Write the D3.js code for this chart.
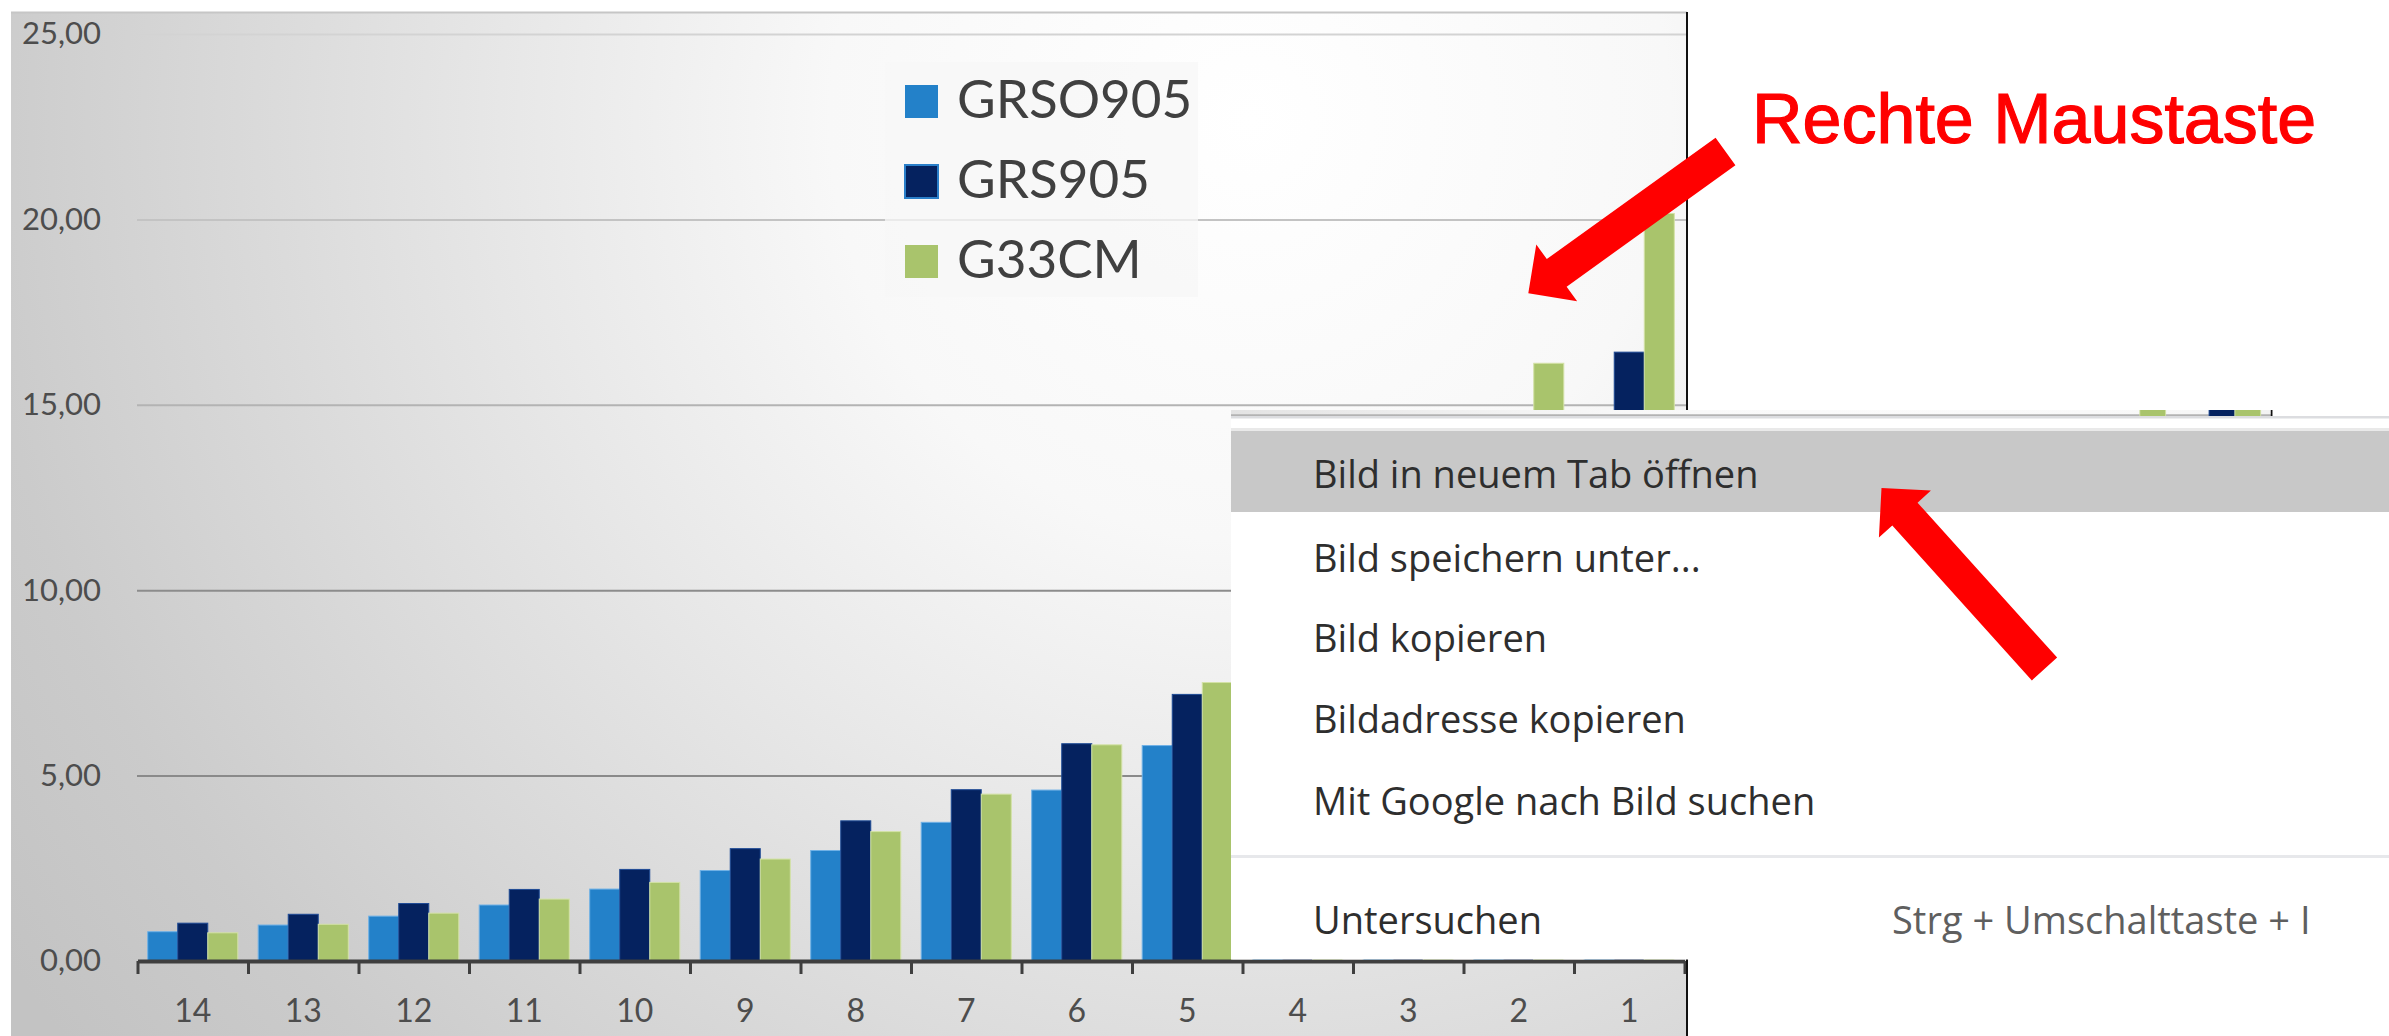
<!DOCTYPE html>
<html>
<head>
<meta charset="utf-8">
<script src="https://cdn.jsdelivr.net/npm/d3@7"></script>
<style>
  html, body { margin: 0; padding: 0; background: #ffffff; overflow: hidden; }
  svg { display: block; }
</style>
</head>
<body>
<svg id="c" width="2389" height="1036"></svg>
<script>
// ---- data ----
const categories = ["14", "13", "12", "11", "10", "9", "8", "7", "6", "5", "4", "3", "2", "1"];
const seriesNames = ["GRSO905", "GRS905", "G33CM"];
const grso905 = [0.79, 0.97, 1.21, 1.51, 1.94, 2.44, 2.98, 3.74, 4.61, 5.81, 7.10, 8.70, 10.70, 13.20];
const grs905  = [1.02, 1.26, 1.55, 1.93, 2.47, 3.03, 3.78, 4.62, 5.86, 7.19, 8.85, 10.90, 13.35, 16.42];
const g33cm   = [0.76, 0.99, 1.29, 1.67, 2.12, 2.75, 3.49, 4.50, 5.83, 7.51, 9.80, 12.60, 16.12, 20.16];
const yTicks = [0, 5, 10, 15, 20, 25];
const menuItems = ["Bild in neuem Tab öffnen", "Bild speichern unter...", "Bild kopieren", "Bildadresse kopieren", "Mit Google nach Bild suchen"];
const menuFooter = "Untersuchen";
const menuShortcut = "Strg + Umschalttaste + I";
const calloutText = "Rechte Maustaste";

const values = { GRSO905: grso905, GRS905: grs905, G33CM: g33cm };

// ---- scales ----
const x = d3.scaleBand().domain(categories).range([137.5, 1684.5]);
const xs = d3.scaleBand().domain(seriesNames).range([0, x.bandwidth()]).paddingOuter(0.34);
const y = d3.scaleLinear().domain([0, 25]).range([961, 34]);
const xEdges = d3.scaleLinear().domain([0, categories.length]).range(x.range());
const fill = d3.scaleOrdinal().domain(seriesNames).range(["#2381c9", "#05225f", "#a9c46c"]);
const rim = d3.scaleOrdinal().domain(seriesNames).range(["#6fb1e6", "#1f4b96", "#d3e2a6"]);
const gridShade = d3.scaleThreshold().domain([7.5, 12.5, 17.5, 22.5])
  .range(["#8a8a8a", "#8c8c8c", "#b3b3b3", "#c3c3c3", "#d3d3d3"]);
const fmt = d3.formatLocale({ decimal: ",", thousands: ".", grouping: [3], currency: ["", " €"] }).format(".2f");

const svg = d3.select("#c");
const defs = svg.append("defs");

const bg = defs.append("radialGradient").attr("id", "panelBg")
  .attr("gradientUnits", "userSpaceOnUse").attr("cx", 1250).attr("cy", 120).attr("r", 1500);
[[0, "#ffffff"], [0.28, "#f8f8f8"], [0.5, "#e7e7e7"], [0.7, "#d7d7d7"], [0.85, "#cbcbcb"], [1, "#c3c3c3"]]
  .forEach(([o, c]) => bg.append("stop").attr("offset", o).attr("stop-color", c));

defs.append("clipPath").attr("id", "stripClip")
  .append("rect").attr("x", 1231).attr("y", 410).attr("width", 1158).attr("height", 8);

const chartFont = "Lato, 'Open Sans', sans-serif";

// draws the column chart into g (panel, grid, bars, axes); labels only when asked
function drawChart(g, withText) {
  g.append("rect").attr("x", 11).attr("y", 12).attr("width", 1676).attr("height", 1030)
    .attr("fill", "url(#panelBg)");
  g.append("line").attr("x1", 11).attr("x2", 1687).attr("y1", 12.5).attr("y2", 12.5)
    .attr("stroke", "#c6c6c6").attr("stroke-width", 2);

  // gridlines
  const grid = g.append("g").attr("transform", "translate(137,0)")
    .call(d3.axisLeft(y).tickValues(yTicks.filter(v => v > 0)).tickSize(-(1687 - 137)).tickFormat(""));
  grid.select(".domain").remove();
  grid.selectAll(".tick line").attr("stroke", d => gridShade(d)).attr("stroke-width", 2);

  // bars
  const groups = g.append("g").selectAll("g").data(categories).join("g")
    .attr("transform", d => `translate(${x(d)},0)`);
  groups.selectAll("rect")
    .data((c, i) => seriesNames.map(s => ({ s, v: values[s][i] })))
    .join("rect")
    .attr("x", d => xs(d.s))
    .attr("width", xs.bandwidth())
    .attr("y", d => y(d.v))
    .attr("height", d => y(0) - y(d.v))
    .attr("fill", d => fill(d.s))
    .attr("stroke", d => rim(d.s))
    .attr("stroke-width", 1);

  // category axis: ticks at the band edges
  const xa = g.append("g").attr("transform", "translate(0,961)")
    .call(d3.axisBottom(xEdges).tickValues(d3.range(categories.length + 1)).tickSize(13).tickSizeOuter(0).tickFormat(""));
  xa.select(".domain").attr("stroke", "#3f3f3f").attr("stroke-width", 4);
  xa.selectAll(".tick line").attr("stroke", "#3f3f3f").attr("stroke-width", 3);

  g.append("line").attr("x1", 1687).attr("x2", 1687).attr("y1", 12).attr("y2", 1036)
    .attr("stroke", "#111111").attr("stroke-width", 2);

  if (!withText) return;

  // value labels on the left
  const yl = g.append("g").attr("transform", "translate(101,0)")
    .call(d3.axisLeft(y).tickValues(yTicks).tickSize(0).tickPadding(0).tickFormat(fmt));
  yl.select(".domain").remove();
  yl.selectAll("text").attr("font-family", chartFont).attr("font-size", 31).attr("fill", "#4d4d4d");

  // category labels at band centres
  const xl = g.append("g").attr("transform", "translate(0,961)")
    .call(d3.axisBottom(x).tickSize(0).tickPadding(38));
  xl.select(".domain").remove();
  xl.selectAll("text").attr("font-family", chartFont).attr("font-size", 32).attr("fill", "#4d4d4d");

  // legend
  const lg = g.append("g");
  lg.append("rect").attr("x", 885).attr("y", 62).attr("width", 313).attr("height", 235)
    .attr("fill", "#f7f7f7").attr("opacity", 0.75);
  const rows = lg.selectAll("g").data(seriesNames).join("g")
    .attr("transform", (d, i) => `translate(0,${118 + i * 80})`);
  rows.append("rect").attr("x", 905).attr("y", -33).attr("width", 33).attr("height", 33)
    .attr("fill", d => fill(d)).attr("stroke", d => d === "GRS905" ? "#2a7fc9" : "none").attr("stroke-width", 2);
  rows.append("text").attr("x", 957).attr("y", 0).text(d => d)
    .attr("font-family", chartFont).attr("font-size", 53).attr("fill", "#404040");
}

// main chart
drawChart(svg.append("g"), true);

// context menu body
const menu = svg.append("g");
menu.append("rect").attr("x", 1231).attr("y", 410).attr("width", 1158).attr("height", 549.5).attr("fill", "#ffffff");

// the image underneath peeking through the menu's top strip
const strip = menu.append("g").attr("clip-path", "url(#stripClip)");
drawChart(strip.append("g").attr("transform", "translate(820.8,66.6) scale(0.86)"), false);

menu.append("rect").attr("x", 1231).attr("y", 416).attr("width", 1158).attr("height", 2.5).attr("fill", "#dcdde0");
menu.append("rect").attr("x", 1231).attr("y", 428).attr("width", 1158).attr("height", 3).attr("fill", "#e9e9e9");
menu.append("rect").attr("x", 1231).attr("y", 431).attr("width", 1158).attr("height", 81).attr("fill", "#c8c8c8");
menu.append("rect").attr("x", 1231).attr("y", 855).attr("width", 1158).attr("height", 3).attr("fill", "#e7e8eb");

const menuFont = "'Open Sans', 'Noto Sans', sans-serif";
const baselines = [488, 572, 652, 733, 815];
menu.selectAll("text.item").data(menuItems).join("text").attr("class", "item")
  .attr("x", 1313).attr("y", (d, i) => baselines[i]).text(d => d)
  .attr("font-family", menuFont).attr("font-size", 38).attr("fill", "#2e2e2e");
menu.append("text").attr("x", 1313).attr("y", 934).text(menuFooter)
  .attr("font-family", menuFont).attr("font-size", 38).attr("fill", "#2e2e2e");
menu.append("text").attr("x", 1892).attr("y", 934).text(menuShortcut)
  .attr("font-family", menuFont).attr("font-size", 38).attr("fill", "#5f5f5f");

// red arrows
function arrowPoints(tail, tip, shaftHalf, headLen, headHalf) {
  const dx = tip[0] - tail[0], dy = tip[1] - tail[1];
  const L = Math.hypot(dx, dy);
  const ux = dx / L, uy = dy / L, nx = -uy, ny = ux;
  const bx = tip[0] - ux * headLen, by = tip[1] - uy * headLen;
  return [
    [tail[0] + nx * shaftHalf, tail[1] + ny * shaftHalf],
    [bx + nx * shaftHalf, by + ny * shaftHalf],
    [bx + nx * headHalf, by + ny * headHalf],
    tip,
    [bx - nx * headHalf, by - ny * headHalf],
    [bx - nx * shaftHalf, by - ny * shaftHalf],
    [tail[0] - nx * shaftHalf, tail[1] - ny * shaftHalf]
  ];
}
const arrows = [
  { tail: [1725.5, 151.5], tip: [1528.3, 293.3] },
  { tail: [2044.5, 669], tip: [1881.5, 488] }
];
svg.append("g").selectAll("polygon").data(arrows).join("polygon")
  .attr("points", d => arrowPoints(d.tail, d.tip, 17, 35, 35).map(p => p.join(",")).join(" "))
  .attr("fill", "#ff0000");

svg.append("text").attr("x", 1752).attr("y", 143).text(calloutText)
  .attr("font-family", "'Liberation Sans', Arial, sans-serif").attr("font-size", 70)
  .attr("fill", "#ff0000").attr("stroke", "#ff0000").attr("stroke-width", 1.2);
</script>
</body>
</html>
